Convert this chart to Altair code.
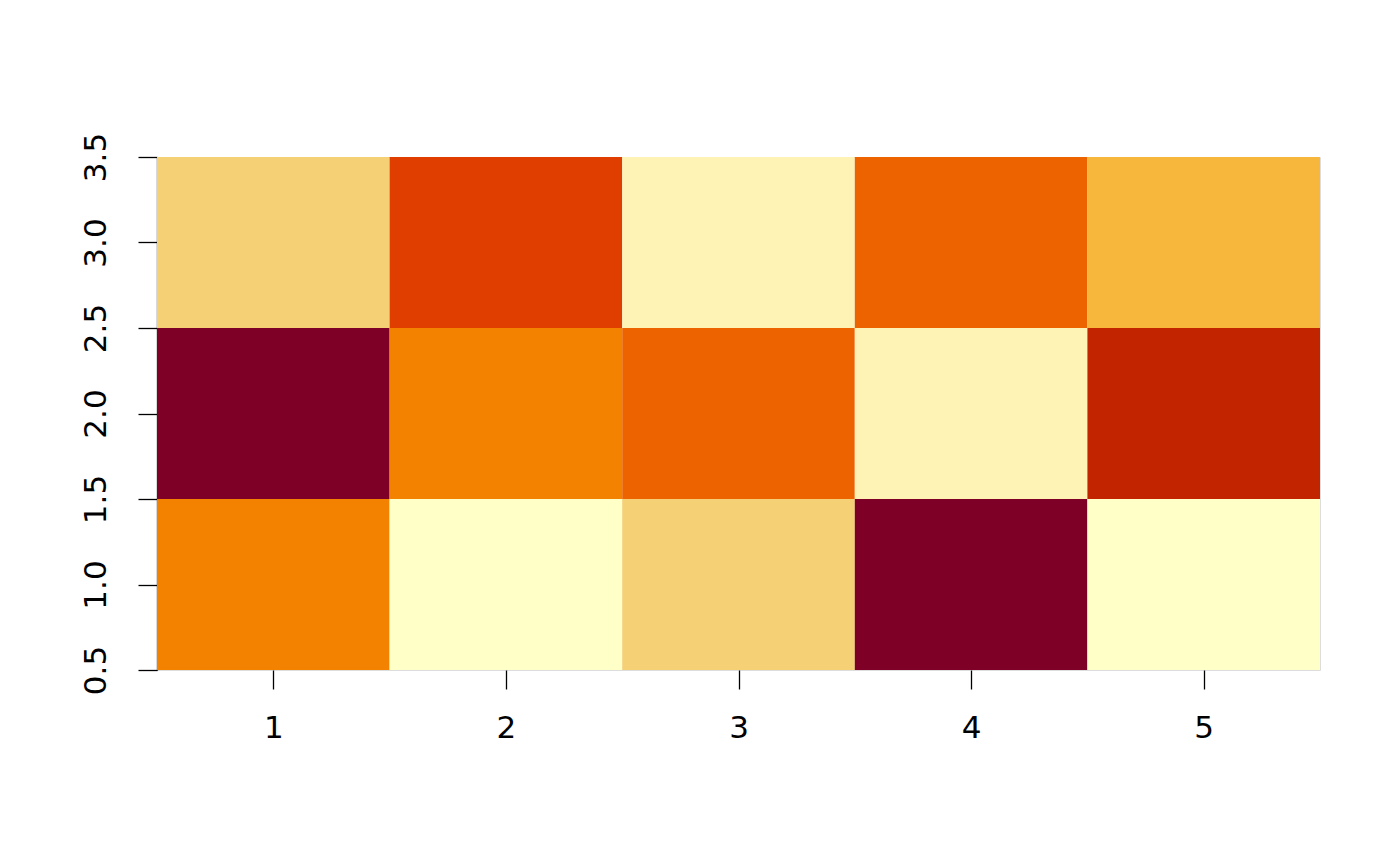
import altair as alt
import pandas as pd

xs = [1, 2, 3, 4, 5]
ys = [1, 2, 3]
# level value per cell, rows listed for y = 1, 2, 3
row_y1 = [5, 9, 7, 1, 9]
row_y2 = [1, 5, 4, 8, 2]
row_y3 = [7, 3, 8, 4, 6]
levels = [1, 2, 3, 4, 5, 6, 7, 8, 9]
palette = ["#7F0026", "#C22400", "#E03D00", "#EC6300", "#F38200",
           "#F6B73C", "#F6D074", "#FEF3B5", "#FFFFC8"]
x_ticks = [1, 2, 3, 4, 5]
y_ticks = [0.5, 1.0, 1.5, 2.0, 2.5, 3.0, 3.5]

rows = []
for y, vals in zip(ys, [row_y1, row_y2, row_y3]):
    for x, v in zip(xs, vals):
        rows.append({"x0": x - 0.5, "x1": x + 0.5, "y0": y - 0.5, "y1": y + 0.5, "v": v})
df = pd.DataFrame(rows)

chart = alt.Chart(df).mark_rect(stroke=None).encode(
    x=alt.X("x0:Q", scale=alt.Scale(domain=[0.5, 5.5], nice=False, zero=False),
            axis=alt.Axis(values=x_ticks, title=None, domain=False, grid=False,
                          tickSize=19, tickColor="black", tickWidth=1.3,
                          labelFontSize=31, labelFont="DejaVu Sans", labelColor="black",
                          labelPadding=24, format="d")),
    x2="x1:Q",
    y=alt.Y("y0:Q", scale=alt.Scale(domain=[0.5, 3.5], nice=False, zero=False),
            axis=alt.Axis(values=y_ticks, title=None, domain=True, domainColor="black",
                          domainWidth=1.3, grid=False, tickSize=19, tickColor="black",
                          tickWidth=1.3, labelFontSize=31, labelFont="DejaVu Sans",
                          labelColor="black", labelAngle=270, labelAlign="center",
                          labelBaseline="bottom", labelPadding=26, format=".1f")),
    y2="y1:Q",
    color=alt.Color("v:O", scale=alt.Scale(domain=levels, range=palette), legend=None),
).properties(
    width=1163, height=513,
    autosize=alt.AutoSizeParams(type="none"),
    padding={"left": 157, "top": 157, "right": 80, "bottom": 196},
).configure_view(stroke="#888888", strokeWidth=1).configure(background="white")

chart.save("out.html", embed_options={"renderer": "svg", "actions": False})
